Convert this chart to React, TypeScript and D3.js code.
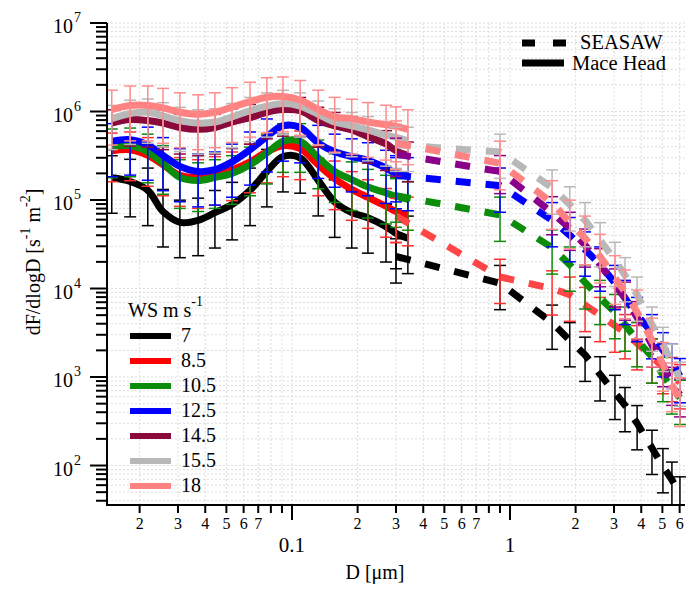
import React from "react";
import * as d3 from "d3";

// ---------- data ----------
const wsLabels = ["7", "8.5", "10.5", "12.5", "14.5", "15.5", "18"];

const maceD = [0.0149, 0.0181, 0.0218, 0.0256, 0.0306, 0.0371, 0.0443, 0.0531, 0.0642, 0.0767, 0.0909, 0.109, 0.132, 0.157, 0.188, 0.223, 0.27, 0.3, 0.34];
const mace7 = [1.78e5, 1.62e5, 1.29e5, 7.4e4, 5.6e4, 5.9e4, 7.2e4, 8.9e4, 1.29e5, 2.1e5, 3.1e5, 3.0e5, 1.66e5, 9.5e4, 7.2e4, 6.3e4, 5.0e4, 4.2e4, 3.7e4];
const mace8_5 = [3.6e5, 3.7e5, 3.2e5, 2.5e5, 1.9e5, 1.8e5, 1.95e5, 2.2e5, 2.7e5, 3.5e5, 4.1e5, 3.8e5, 2.5e5, 1.74e5, 1.32e5, 1.07e5, 8.5e4, 7.4e4, 6.8e4];
const mace10_5 = [4.0e5, 4.1e5, 3.5e5, 2.6e5, 1.8e5, 1.66e5, 1.8e5, 2.0e5, 2.5e5, 3.4e5, 4.6e5, 4.6e5, 3.0e5, 2.1e5, 1.7e5, 1.4e5, 1.2e5, 1.1e5, 1.02e5];
const mace12_5 = [4.6e5, 4.8e5, 4.2e5, 3.2e5, 2.4e5, 2.1e5, 2.2e5, 2.7e5, 3.7e5, 5.2e5, 6.9e5, 6.6e5, 4.4e5, 3.5e5, 3.1e5, 2.8e5, 2.3e5, 2.0e5, 1.9e5];
const mace14_5 = [7.4e5, 8.1e5, 7.9e5, 7.4e5, 6.6e5, 6.3e5, 6.6e5, 7.6e5, 8.5e5, 9.8e5, 1.05e6, 1.02e6, 7.9e5, 6.9e5, 6.2e5, 5.2e5, 4.3e5, 3.6e5, 3.2e5];
const mace15_5 = [8.3e5, 9.5e5, 9.8e5, 8.9e5, 7.9e5, 7.4e5, 7.6e5, 8.7e5, 1.02e6, 1.15e6, 1.23e6, 1.15e6, 9.3e5, 7.6e5, 6.9e5, 6.2e5, 5.4e5, 5.1e5, 4.7e5];
const mace18 = [1.05e6, 1.17e6, 1.17e6, 1.1e6, 9.8e5, 9.3e5, 9.8e5, 1.12e6, 1.29e6, 1.45e6, 1.48e6, 1.35e6, 1.05e6, 8.7e5, 8.3e5, 7.6e5, 7.1e5, 6.8e5, 6.3e5];

const seasawD = [0.3, 0.9, 1.56, 1.88, 2.21, 2.59, 3.03, 3.37, 3.83, 4.48, 5.03, 5.53, 6.02];
const seasaw7 = [2.3e4, 1.15e4, 4.1e3, 2.6e3, 1.78e3, 1.07e3, 660, 480, 300, 158, 98, 69, 47];
const seasaw8_5 = [6.6e4, 1.35e4, 1.0e4, 8.5e3, 6.5e3, 5.0e3, 3.8e3, 3.2e3, 2.4e3, 1.7e3, 1.29e3, 1.05e3, 870];
const seasaw10_5 = [1.12e5, 6.8e4, 2.9e4, 1.86e4, 1.17e4, 7.8e3, 5.4e3, 3.9e3, 2.6e3, 1.7e3, 1.05e3, 760, 580];
const seasaw12_5 = [1.9e5, 1.45e5, 5.9e4, 4.0e4, 2.75e4, 1.86e4, 1.15e4, 7.8e3, 5.0e3, 3.2e3, 2.0e3, 1.48e3, 1.02e3];
const seasaw14_5 = [3.3e5, 2.1e5, 7.2e4, 4.8e4, 3.1e4, 1.86e4, 1.1e4, 7.8e3, 4.7e3, 2.3e3, 1.38e3, 850, 630];
const seasaw15_5 = [4.2e5, 3.5e5, 1.38e5, 8.9e4, 5.9e4, 3.5e4, 2.1e4, 1.41e4, 8.5e3, 3.9e3, 2.3e3, 1.48e3, 930];
const seasaw18 = [4.4e5, 2.6e5, 9.3e4, 5.6e4, 3.7e4, 2.3e4, 1.32e4, 9.1e3, 5.4e3, 2.6e3, 1.38e3, 810, 550];

// error bar half-widths (decades) per series
const maceErrUp = [0.25, 0.2, 0.2, 0.2, 0.15, 0.15, 0.22];
const maceErrDn = [0.4, 0.35, 0.35, 0.4, 0.3, 0.35, 0.4];
const seasawErrUp = [0.2, 0.2, 0.2, 0.2, 0.18, 0.2, 0.25];
const seasawErrDn = [0.3, 0.3, 0.3, 0.3, 0.25, 0.3, 0.3];

const maceSeries = [mace7, mace8_5, mace10_5, mace12_5, mace14_5, mace15_5, mace18];
const seasawSeries = [seasaw7, seasaw8_5, seasaw10_5, seasaw12_5, seasaw14_5, seasaw15_5, seasaw18];

const maceColors = ["#000000", "#ff0000", "#0b8c0b", "#0000ff", "#8b0a3c", "#b8b8b8", "#ff8282"];
const seasawColors = ["#000000", "#ff4545", "#0b8c0b", "#0000ff", "#8b008b", "#b8b8b8", "#ff8282"];
const barColors = ["#000000", "#ff3030", "#0b8c0b", "#0000ff", "#8b0a3c", "#b8b8b8", "#ff8c8c"];
const seasawBarColors = ["#000000", "#ff3030", "#0b8c0b", "#0000ff", "#8b008b", "#b8b8b8", "#ff8c8c"];

const yExps = [2, 3, 4, 5, 6, 7];
const xMajors = [0.1, 1];
const xMinorLabelled = [2, 3, 4, 5, 6, 7];

// ---------- layout ----------
const W = 687, H = 596;
const L = 107, R = 685, T = 23, B = 505;
const FONT = "'Liberation Serif', 'Times New Roman', serif";

export default function App() {
  const x = d3.scaleLog().domain([0.01417, 6.35]).range([L, R]);
  const y = d3.scaleLog().domain([35.8, 1e7]).range([B, T]);

  const xGrid: number[] = [];
  const xMinor: number[] = [];
  for (let e = -2; e <= 0; e++) {
    for (let m = 1; m <= 9; m++) {
      const v = m * Math.pow(10, e);
      if (v >= 0.01417 && v <= 6.35) {
        xGrid.push(v);
        if (m !== 1) xMinor.push(v);
      }
    }
  }
  const yGrid: number[] = [];
  const yMinor: number[] = [];
  for (let e = 1; e <= 7; e++) {
    for (let m = 1; m <= 9; m++) {
      const v = m * Math.pow(10, e);
      if (v >= 35.8 && v <= 1e7) {
        yGrid.push(v);
        if (m !== 1) yMinor.push(v);
      }
    }
  }

  const lineMace = d3
    .line<number>()
    .x((_, i) => x(maceD[i]))
    .y((v) => y(v))
    .curve(d3.curveCatmullRom.alpha(0.5));
  const lineSea = d3
    .line<number>()
    .x((_, i) => x(seasawD[i]))
    .y((v) => y(v));

  const cap = 6;
  const errBars = (ds: number[], vs: number[], up: number, dn: number, color: string, key: string) =>
    vs.map((v, i) => {
      const cx = x(ds[i]);
      const y1 = y(v * Math.pow(10, up));
      const y2 = y(v / Math.pow(10, dn));
      return (
        <g key={key + i} stroke={color} strokeWidth={1.5}>
          <line x1={cx} x2={cx} y1={y1} y2={y2} />
          <line x1={cx - cap} x2={cx + cap} y1={y1} y2={y1} />
          <line x1={cx - cap} x2={cx + cap} y1={y2} y2={y2} />
        </g>
      );
    });

  return (
    <svg width={W} height={H} style={{ position: "absolute", left: 0, top: 0, background: "#fff" }} fontFamily={FONT}>
      <defs>
        <clipPath id="plotclip">
          <rect x={L} y={T - 2} width={R - L + 2} height={B - T + 2} />
        </clipPath>
      </defs>
      <rect x={0} y={0} width={W} height={H} fill="#fff" />
      {/* grid */}
      <g stroke="#dcdcdc" strokeWidth={1} strokeDasharray="2,2">
        {xGrid.map((v) => (
          <line key={"gx" + v} x1={x(v)} x2={x(v)} y1={T} y2={B} />
        ))}
        {yGrid.map((v) => (
          <line key={"gy" + v} x1={L} x2={R} y1={y(v)} y2={y(v)} />
        ))}
      </g>

      <g clipPath="url(#plotclip)">
        {maceSeries.map((s, i) => (
          <g key={"m" + i}>
            <path d={lineMace(s) || ""} fill="none" stroke={maceColors[i]} strokeWidth={7} strokeLinejoin="round" />
            {errBars(maceD, s, maceErrUp[i], maceErrDn[i], barColors[i], "mb" + i + "_")}
          </g>
        ))}
        {seasawSeries.map((s, i) => (
          <g key={"s" + i}>
            <path d={lineSea(s) || ""} fill="none" stroke={seasawColors[i]} strokeWidth={7} strokeDasharray="15,15" />
            {errBars(seasawD, s, seasawErrUp[i], seasawErrDn[i], seasawBarColors[i], "sb" + i + "_")}
          </g>
        ))}
      </g>

      {/* axes */}
      <g stroke="#000" strokeWidth={2}>
        <line x1={L} x2={L} y1={T} y2={B + 1} />
        <line x1={L - 1} x2={R} y1={B} y2={B} />
        {yExps.map((e) => (
          <line key={"yt" + e} x1={L - 17} x2={L} y1={y(Math.pow(10, e))} y2={y(Math.pow(10, e))} />
        ))}
        {yMinor.map((v) => (
          <line key={"ym" + v} x1={L - 11} x2={L} y1={y(v)} y2={y(v)} />
        ))}
        {xMajors.map((v) => (
          <line key={"xt" + v} x1={x(v)} x2={x(v)} y1={B} y2={B + 15} />
        ))}
        {xMinor.map((v) => (
          <line key={"xm" + v} x1={x(v)} x2={x(v)} y1={B} y2={B + 8} />
        ))}
      </g>

      {/* y tick labels */}
      {yExps.map((e) => (
        <text key={"yl" + e} x={53} y={y(Math.pow(10, e)) + 10} fontSize={20} fill="#000">
          10
          <tspan fontSize={14} dy={-11} dx={1}>
            {e}
          </tspan>
        </text>
      ))}
      {/* x tick labels */}
      {xMinor
        .filter((v) => {
          const m = Math.round(v / Math.pow(10, Math.floor(Math.log10(v) + 1e-9)));
          return xMinorLabelled.includes(m);
        })
        .map((v) => {
          const m = Math.round(v / Math.pow(10, Math.floor(Math.log10(v) + 1e-9)));
          return (
            <text key={"xl" + v} x={x(v)} y={529} fontSize={16} textAnchor="middle" fill="#000">
              {m}
            </text>
          );
        })}
      {xMajors.map((v) => (
        <text key={"xL" + v} x={x(v)} y={552} fontSize={21} textAnchor="middle" fill="#000">
          {String(v)}
        </text>
      ))}

      {/* axis titles */}
      <text x={375} y={579} fontSize={20} textAnchor="middle" fill="#000">
        D [μm]
      </text>
      <text transform="translate(40,262) rotate(-90)" fontSize={20} textAnchor="middle" fill="#000">
        dF/dlogD [s
        <tspan fontSize={14} dy={-10}>-1</tspan>
        <tspan dy={10}> m</tspan>
        <tspan fontSize={14} dy={-10}>-2</tspan>
        <tspan dy={10}>]</tspan>
      </text>

      {/* legend top-right */}
      <line x1={522} x2={568} y1={43} y2={43} stroke="#000" strokeWidth={7} strokeDasharray="13,18" />
      <text x={580} y={49} fontSize={20.5} fill="#000">SEASAW</text>
      <line x1={522} x2={564} y1={63} y2={63} stroke="#000" strokeWidth={7} />
      <text x={572} y={70} fontSize={20.5} fill="#000">Mace Head</text>

      {/* WS legend */}
      <text x={128} y={317} fontSize={20} fill="#000">
        WS m s
        <tspan fontSize={14} dy={-11}>-1</tspan>
      </text>
      {wsLabels.map((lab, i) => (
        <g key={"lg" + i}>
          <line x1={130} x2={171} y1={336 + 25 * i} y2={336 + 25 * i} stroke={maceColors[i]} strokeWidth={6} />
          <text x={181} y={342 + 25 * i} fontSize={20} fill="#000">
            {lab}
          </text>
        </g>
      ))}
    </svg>
  );
}
